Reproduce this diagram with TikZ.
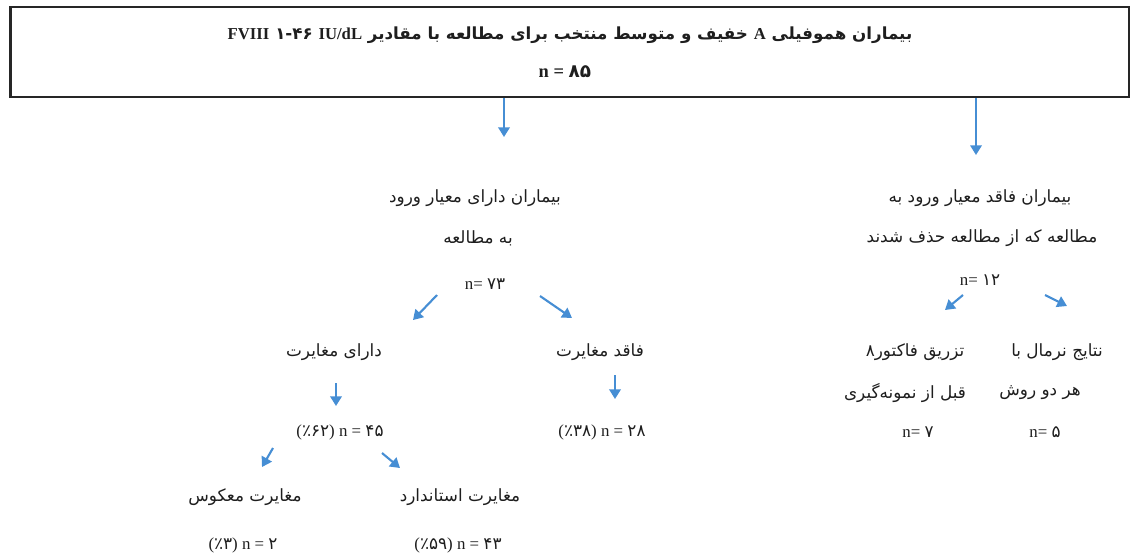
\documentclass[tikz,border=0pt]{standalone}
\usepackage{fontspec}
\setmainfont{Liberation Serif}
\newfontfamily\arabicfont[Script=Arabic]{DejaVu Sans}
\TeXXeTstate=1
\usepackage{xcolor}
\usetikzlibrary{arrows.meta, positioning}
\definecolor{flowblue}{RGB}{70,142,212}
\definecolor{inkgray}{RGB}{30,30,30}

\begin{document}
\begin{tikzpicture}[
  x = 0.02cm, y = -0.02cm,
  every node/.style = {font=\fontsize{9.6}{11}\selectfont, text=inkgray, inner sep=1pt},
  frame/.style = {draw=black!85, line width=1.6pt, inner sep=0pt,
                  minimum width=22.38cm, minimum height=1.8cm},
  ttl/.style   = {font=\fontsize{9.5}{11}\selectfont\bfseries},
  flow/.style  = {flowblue, line width=1.2pt, -{Triangle[width=6.5pt,length=5.5pt]}},
]
\useasboundingbox (0,0) rectangle (1132,556);

% Row y-positions (pixels, downwards)
\def\yA{198}   % group title, first line
\def\yB{238}   % group title, second line
\def\yC{352}   % variance rows
\def\yD{393}
\def\yE{432}   % counts
\def\yF{497}   % variance type
\def\yG{545}   % variance counts

% ── STUDY POPULATION ────────────────────────────────────────────────────────
\node[frame] at (569.5, 52) (top) {};
\node[ttl] at (570, 35) (title)
  {\arabicfont\beginR بیماران هموفیلی {\rmfamily A} خفیف و متوسط منتخب برای مطالعه با مقادیر \beginL{\rmfamily FVIII} ۱-۴۶ {\rmfamily IU/dL}\endL\endR};
\node[ttl, font=\fontsize{10.5}{12}\selectfont\bfseries] at (565, 72) (total) {n = {\arabicfont ۸۵}};

\coordinate (inEnd)  at (504, 137);
\coordinate (outEnd) at (976, 155);
\draw[flow] (top.south -| inEnd)  -- (inEnd);
\draw[flow] (top.south -| outEnd) -- (outEnd);

% ── INCLUDED ────────────────────────────────────────────────────────────────
\node at (475, \yA) (inA) {\arabicfont\beginR بیماران دارای معیار ورود\endR};
\node at (478, \yB) (inB) {\arabicfont\beginR به مطالعه\endR};
\node at (485, 284) (inN) {n= {\arabicfont ۷۳}};

\coordinate (inL0) at (437, 295);  \coordinate (inL1) at (413, 320);
\coordinate (inR0) at (540, 296);  \coordinate (inR1) at (572, 318);
\draw[flow] (inL0) -- (inL1);
\draw[flow] (inR0) -- (inR1);

% with variance
\node at (334, \yC) (varA) {\arabicfont\beginR دارای مغایرت\endR};
\coordinate (var0) at (336, 383);  \coordinate (var1) at (336, 406);
\draw[flow] (var0) -- (var1);
\node at (340, \yE) (varN) {({\arabicfont ٪۶۲}) n = {\arabicfont ۴۵}};

\coordinate (revL0) at (273, 448); \coordinate (revL1) at (262, 467);
\coordinate (stdR0) at (382, 453); \coordinate (stdR1) at (400, 468);
\draw[flow] (revL0) -- (revL1);
\draw[flow] (stdR0) -- (stdR1);

\node at (245, \yF) (revA) {\arabicfont\beginR مغایرت معکوس\endR};
\node at (243, \yG) (revN) {({\arabicfont ٪۳}) n = {\arabicfont ۲}};
\node at (460, \yF) (stdA) {\arabicfont\beginR مغایرت استاندارد\endR};
\node at (458, \yG) (stdN) {({\arabicfont ٪۵۹}) n = {\arabicfont ۴۳}};

% without variance
\node at (600, \yC) (noVarA) {\arabicfont\beginR فاقد مغایرت\endR};
\coordinate (noVar0) at (615, 375); \coordinate (noVar1) at (615, 399);
\draw[flow] (noVar0) -- (noVar1);
\node at (602, \yE) (noVarN) {({\arabicfont ٪۳۸}) n = {\arabicfont ۲۸}};

% ── EXCLUDED ────────────────────────────────────────────────────────────────
\node at (980, \yA) (outA) {\arabicfont\beginR بیماران فاقد معیار ورود به\endR};
\node at (982, \yB) (outB) {\arabicfont\beginR مطالعه که از مطالعه حذف شدند\endR};
\node at (980, 280) (outN) {n= {\arabicfont ۱۲}};

\coordinate (outL0) at (963, 295); \coordinate (outL1) at (945, 310);
\coordinate (outR0) at (1045, 295); \coordinate (outR1) at (1067, 306);
\draw[flow] (outL0) -- (outL1);
\draw[flow] (outR0) -- (outR1);

\node at (915, \yC) (injA) {\arabicfont\beginR تزریق فاکتور۸\endR};
\node at (905, \yD) (injB) {\arabicfont\beginR قبل از نمونه‌گیری\endR};
\node at (918, \yE) (injN) {n= {\arabicfont ۷}};
\node at (1057, \yC) (normA) {\arabicfont\beginR نتایج نرمال با\endR};
\node at (1040, \yD) (normB) {\arabicfont\beginR هر دو روش\endR};
\node at (1045, \yE) (normN) {n= {\arabicfont ۵}};

\end{tikzpicture}
\end{document}
